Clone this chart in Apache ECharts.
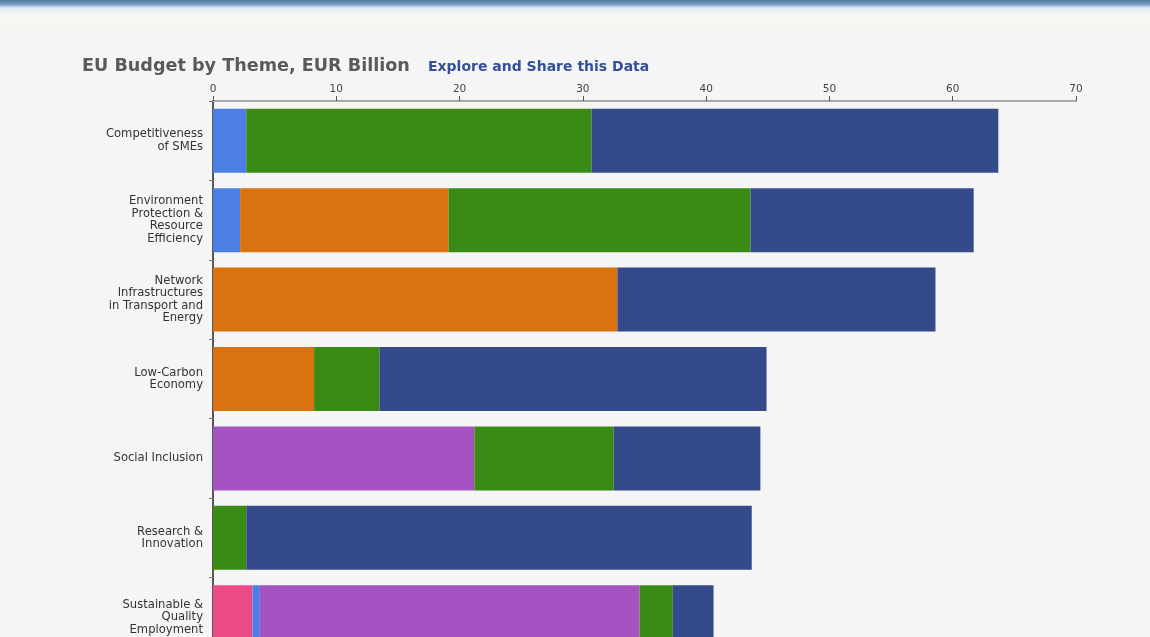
<!DOCTYPE html>
<html>
<head>
<meta charset="utf-8">
<script src="https://cdn.jsdelivr.net/npm/echarts@6/dist/echarts.min.js"></script>
<style>
  html, body { margin: 0; padding: 0; background: #f5f5f5; overflow: hidden; }
  #chart { width: 1150px; height: 680px; }
</style>
</head>
<body>
<div id="chart"></div>
<script>
const themes = [
  'Competitiveness\nof SMEs',
  'Environment\nProtection &\nResource\nEfficiency',
  'Network\nInfrastructures\nin Transport and\nEnergy',
  'Low-Carbon\nEconomy',
  'Social Inclusion',
  'Research &\nInnovation',
  'Sustainable &\nQuality\nEmployment'
];

// EUR billion per segment, stacked left to right
const pinkVals   = [0,    0,    0,    0,    0,    0,    3.2];
const blueVals   = [2.7,  2.2,  0,    0,    0,    0,    0.6];
const orangeVals = [0,    16.9, 32.8, 8.2,  0,    0,    0];
const purpleVals = [0,    0,    0,    0,    21.2, 0,    30.8];
const greenVals  = [28.0, 24.5, 0,    5.3,  11.3, 2.7,  2.7];
const navyVals   = [33.0, 18.1, 25.8, 31.4, 11.9, 41.0, 3.3];

const xTicks = [0, 10, 20, 30, 40, 50, 60, 70];

const chart = echarts.init(document.getElementById('chart'));

const seg = (name, data, color) => ({
  name: name,
  type: 'bar',
  stack: 'total',
  data: data,
  barWidth: 64,
  itemStyle: { color: color },
  silent: true
});

const option = {
  backgroundColor: '#f5f5f5',
  animation: false,
  graphic: [
    {
      type: 'rect',
      shape: { x: 0, y: 0, width: 1150, height: 13 },
      style: {
        fill: new echarts.graphic.LinearGradient(0, 0, 0, 1, [
          { offset: 0, color: '#4f7ba4' },
          { offset: 0.3, color: '#6f96ba' },
          { offset: 0.6, color: '#dde9f4' },
          { offset: 1, color: '#eef4fa' }
        ])
      }
    },
    {
      type: 'rect',
      shape: { x: 0, y: 13, width: 1150, height: 16 },
      style: { fill: '#f8f6f3' }
    }
  ],
  title: [
    {
      text: 'EU Budget by Theme, EUR Billion',
      left: 77,
      top: 52,
      textStyle: {
        fontFamily: 'DejaVu Sans',
        fontSize: 17.6,
        fontWeight: 'bold',
        color: '#5a5a5a'
      }
    },
    {
      text: 'Explore and Share this Data',
      left: 423,
      top: 55,
      textStyle: {
        fontFamily: 'DejaVu Sans',
        fontSize: 14,
        fontWeight: 'bold',
        color: '#34509a'
      }
    }
  ],
  grid: {
    left: 213,
    top: 101,
    width: 863,
    height: 556
  },
  xAxis: {
    type: 'value',
    position: 'top',
    min: xTicks[0],
    max: xTicks[xTicks.length - 1],
    interval: 10,
    splitLine: { show: false },
    axisLine: { show: true, lineStyle: { color: '#a8a8a8', width: 2 } },
    axisTick: { show: true, length: 5, lineStyle: { color: '#555' } },
    axisLabel: {
      margin: 6,
      fontFamily: 'DejaVu Sans',
      fontSize: 10.5,
      color: '#444'
    }
  },
  yAxis: {
    type: 'category',
    inverse: true,
    data: themes,
    axisLine: { show: true, lineStyle: { color: '#222', width: 1.5 } },
    axisTick: { show: true, length: 4, lineStyle: { color: '#777' } },
    axisLabel: {
      margin: 10,
      fontFamily: 'DejaVu Sans',
      fontSize: 11.6,
      lineHeight: 12.5,
      color: '#333',
      align: 'right'
    }
  },
  series: [
    seg('Pink', pinkVals, '#ec4b88'),
    seg('Blue', blueVals, '#4b7fe6'),
    seg('Orange', orangeVals, '#d9720f'),
    seg('Purple', purpleVals, '#a552c3'),
    seg('Green', greenVals, '#3a8b14'),
    seg('Navy', navyVals, '#344a8b')
  ]
};

chart.setOption(option);
</script>
</body>
</html>
